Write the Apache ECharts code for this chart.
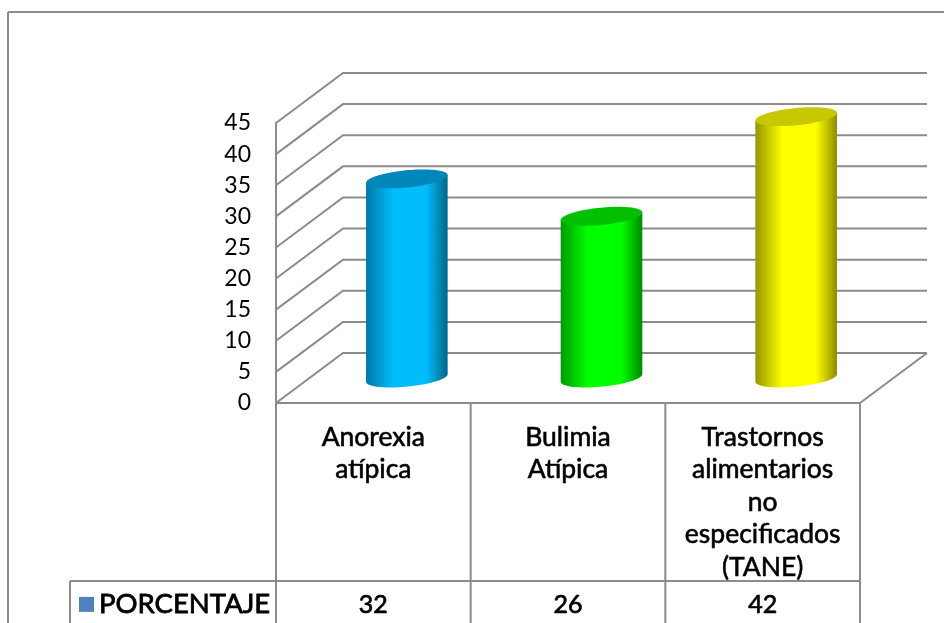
<!DOCTYPE html>
<html>
<head>
<meta charset="utf-8">
<style>html,body{margin:0;padding:0;background:#fff}#chart{width:944px;height:623px}</style>
<script src="https://cdn.jsdelivr.net/npm/echarts@6/dist/echarts.min.js"></script>
</head>
<body>
<div id="chart"></div>
<script>
// Chart data
const categories = ['Anorexia\natípica', 'Bulimia\nAtípica', 'Trastornos\nalimentarios\nno\nespecificados\n(TANE)'];
const seriesName = 'PORCENTAJE';
const percentages = [32, 26, 42];
const yTicks = [0, 5, 10, 15, 20, 25, 30, 35, 40, 45];

// Cylinder shading, one entry per category: dark left, bright, dark right, top cap
const shades = [
  ['#0078A8', '#00BCFA', '#006488', '#0087BA'],
  ['#009A00', '#00FF00', '#008A00', '#00C000'],
  ['#959500', '#FFFF00', '#8C8C00', '#C8C800']
];

// Layout of the plot and of the table beneath it
const plot = { left: 276, top: 123, width: 584, height: 280 };
const depth = { x: 67, y: -50 };
const tableRowY = 581;
const tableLeft = 70;
const pageBottom = 623;
const lineColor = '#8b8b8b';
const fontFamily = 'Lato, sans-serif';

const bandWidth = plot.width / categories.length;
const plotRight = plot.left + plot.width;
const plotBottom = plot.top + plot.height;
const capA = 41;
const capB = 8.6;
const capTilt = -5.6 * Math.PI / 180;

// Point on a tilted ellipse centred at (cx, cy)
function capPoint(cx, cy, t) {
  const ex = capA * Math.cos(t);
  const ey = capB * Math.sin(t);
  return [
    cx + ex * Math.cos(capTilt) - ey * Math.sin(capTilt),
    cy + ex * Math.sin(capTilt) + ey * Math.cos(capTilt)
  ];
}

function renderCylinder(params, api) {
  const i = api.value(0);
  const value = api.value(1);
  const base = api.coord([i, 0]);
  const top = api.coord([i, value]);
  const cx = base[0] + depth.x / 2;
  const by = base[1] + depth.y / 2;
  const ty = top[1] + depth.y / 2;
  const shade = shades[i];
  const steps = 48;

  // Body: down the left side, around the near half of the base, back up the right side
  const outline = [capPoint(cx, ty, Math.PI)];
  for (let s = steps; s >= 0; s--) {
    outline.push(capPoint(cx, by, (Math.PI * s) / steps));
  }
  outline.push(capPoint(cx, ty, 0));

  const cap = [];
  for (let s = 0; s < steps * 2; s++) {
    cap.push(capPoint(cx, ty, (Math.PI * s) / steps));
  }

  return {
    type: 'group',
    children: [
      {
        type: 'polygon',
        shape: { points: outline },
        style: {
          fill: new echarts.graphic.LinearGradient(0, 0, 1, 0, [
            { offset: 0, color: shade[0] },
            { offset: 0.33, color: shade[1] },
            { offset: 0.74, color: shade[1] },
            { offset: 1, color: shade[2] }
          ])
        }
      },
      { type: 'polygon', shape: { points: cap }, style: { fill: shade[3] } }
    ]
  };
}

// One gridline: side wall from the front axis to the back, then across the back wall
function renderWallLine(params, api) {
  const y = api.coord([0, api.value(0)])[1];
  return {
    type: 'polyline',
    shape: {
      points: [
        [plot.left, y],
        [plot.left + depth.x, y + depth.y],
        [plotRight + depth.x, y + depth.y]
      ]
    },
    style: { fill: null, stroke: lineColor, lineWidth: 2 }
  };
}

function renderTableValue(params, api) {
  const x = api.coord([api.value(0), 0])[0];
  return {
    type: 'text',
    x: x,
    y: tableRowY + 24,
    style: {
      text: String(api.value(1)),
      fill: '#000',
      stroke: '#000',
      lineWidth: 0.7,
      font: '25px ' + fontFamily,
      align: 'center',
      verticalAlign: 'middle'
    }
  };
}

function line(x1, y1, x2, y2) {
  return {
    type: 'line',
    shape: { x1, y1, x2, y2 },
    style: { stroke: lineColor, lineWidth: 2 },
    z: 1
  };
}

// Outer frame, floor edge and table rules
const rules = [
  line(8, 12, 944, 12),
  line(8, 12, 8, pageBottom),
  line(plotRight, plotBottom, plotRight + depth.x, plotBottom + depth.y),
  line(plot.left, plotBottom, plotRight, plotBottom),
  line(tableLeft, tableRowY, plotRight, tableRowY),
  line(tableLeft, tableRowY, tableLeft, pageBottom)
];
for (let k = 0; k <= categories.length; k++) {
  const x = plot.left + bandWidth * k;
  rules.push(line(x, plotBottom, x, pageBottom));
}

const chart = echarts.init(document.getElementById('chart'), null, { renderer: 'canvas' });
chart.setOption({
  animation: false,
  backgroundColor: '#ffffff',
  graphic: { elements: rules },
  legend: {
    data: [seriesName],
    left: 74,
    top: 585,
    icon: 'rect',
    itemWidth: 15,
    itemHeight: 15,
    itemGap: 6,
    selectedMode: false,
    textStyle: {
      color: '#000',
      fontSize: 27.5,
      fontFamily: fontFamily,
      textBorderColor: '#000',
      textBorderWidth: 0.8
    }
  },
  grid: { left: plot.left, top: plot.top, width: plot.width, height: plot.height },
  xAxis: {
    type: 'category',
    data: categories,
    axisLine: { show: false },
    axisTick: { show: false },
    axisLabel: {
      interval: 0,
      margin: 18,
      color: '#000',
      fontSize: 26.5,
      fontFamily: fontFamily,
      lineHeight: 32.5,
      verticalAlign: 'top',
      textBorderColor: '#000',
      textBorderWidth: 0.6
    }
  },
  yAxis: {
    type: 'value',
    min: 0,
    max: 45,
    interval: 5,
    axisLine: { show: true, lineStyle: { color: lineColor, width: 2 } },
    axisTick: { show: false },
    splitLine: { show: false },
    axisLabel: {
      margin: 25,
      color: '#000',
      fontSize: 23,
      fontFamily: fontFamily,
      padding: [9, 0, 0, 0]
    }
  },
  series: [
    {
      name: 'Rejilla',
      type: 'custom',
      z: 2,
      renderItem: renderWallLine,
      encode: { y: 0 },
      data: yTicks.map(t => [t]),
      silent: true
    },
    {
      name: seriesName,
      type: 'custom',
      z: 3,
      itemStyle: { color: '#4F81BD' },
      renderItem: renderCylinder,
      encode: { x: 0, y: 1 },
      data: percentages.map((v, i) => [i, v])
    },
    {
      name: 'Tabla',
      type: 'custom',
      z: 3,
      renderItem: renderTableValue,
      encode: { x: 0, y: 1 },
      data: percentages.map((v, i) => [i, v]),
      silent: true
    }
  ]
});
</script>
</body>
</html>
